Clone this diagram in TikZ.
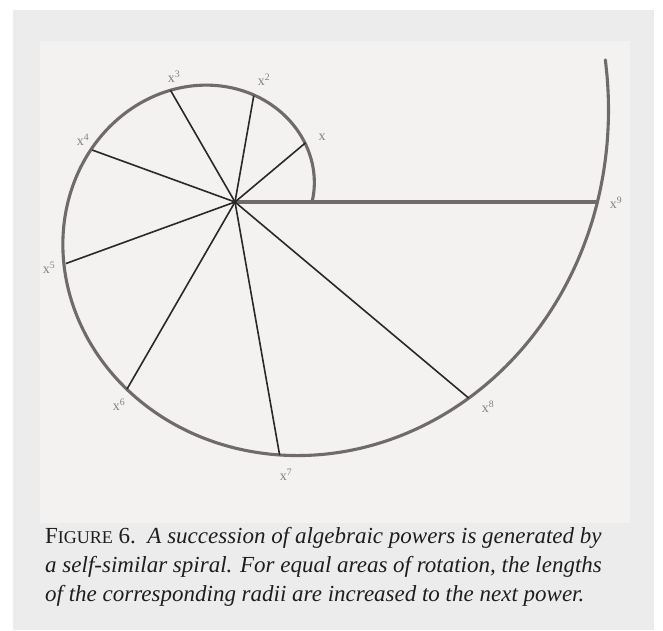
\documentclass[tikz,border=0pt]{standalone}
\usepackage{fontspec}
\setmainfont{Liberation Serif}
\usepackage{tikz}
\usetikzlibrary{positioning,calc}
\usepackage{xcolor}
\definecolor{framegray}{HTML}{ECECEC}
\definecolor{panelgray}{HTML}{F3F2F0}
\definecolor{spiralgray}{HTML}{706A6A}
\definecolor{radiusdark}{HTML}{2A2828}
\definecolor{labelgray}{HTML}{858080}
\definecolor{captiontext}{HTML}{1E1E1E}

\begin{document}
\begin{tikzpicture}[x=1pt, y=1pt,
  spiralline/.style={draw=spiralgray, line width=3.1pt},
  radius/.style={draw=radiusdark, line width=1.6pt},
  powlabel/.style={text=labelgray, inner sep=0pt, font=\fontsize{14}{14}\selectfont},
  captionline/.style={text=captiontext, inner sep=0pt, anchor=base west, font=\fontsize{23}{26}\selectfont\itshape}]
% page, frame and panel
\fill[white] (0,0) rectangle (663,630);
\fill[framegray] (13,0) rectangle (654,620);
\fill[panelgray] (40,107) rectangle (630,589);
% centre and ends of the radii
\coordinate (o) at (235,428);
\path (o) ++(0:77) coordinate (p0);
\path (o) ++(40:92) coordinate (p1);
\path (o) ++(80:108) coordinate (p2);
\path (o) ++(120:129) coordinate (p3);
\path (o) ++(160:152) coordinate (p4);
\path (o) ++(200:180) coordinate (p5);
\path (o) ++(240:216) coordinate (p6);
\path (o) ++(280:257) coordinate (p7);
\path (o) ++(320:305) coordinate (p8);
\path (o) ++(360:363) coordinate (p9);
% spiral
\draw[spiralline, line cap=round, shift={(o)}] plot[domain=0:381, samples=160, smooth] (\x:{77*exp(0.0043047*\x)});
\draw[spiralline] (o) -- (p9);
% radii
\draw[radius] (o) -- (p1);
\draw[radius] (o) -- (p2);
\draw[radius] (o) -- (p3);
\draw[radius] (o) -- (p4);
\draw[radius] (o) -- (p5);
\draw[radius] (o) -- (p6);
\draw[radius] (o) -- (p7);
\draw[radius] (o) -- (p8);
% labels
\node[powlabel] (l1) at ([shift={(87,65)}]o) {x};
\node[powlabel] (l2) at ([shift={(29,122)}]o) {x\textsuperscript{2}};
\node[powlabel] (l3) at ([shift={(-61,125)}]o) {x\textsuperscript{3}};
\node[powlabel] (l4) at ([shift={(-152,62)}]o) {x\textsuperscript{4}};
\node[powlabel] (l5) at ([shift={(-186,-66)}]o) {x\textsuperscript{5}};
\node[powlabel] (l6) at ([shift={(-116,-203)}]o) {x\textsuperscript{6}};
\node[powlabel] (l7) at ([shift={(51,-273)}]o) {x\textsuperscript{7}};
\node[powlabel] (l8) at ([shift={(253,-205)}]o) {x\textsuperscript{8}};
\node[powlabel] (l9) at ([shift={(381,-1)}]o) {x\textsuperscript{9}};
% caption
\node[captionline] (c1) at (45,87) {\upshape F{\fontsize{18}{18}\selectfont IGURE} 6.\ \ \itshape A succession of algebraic powers is generated by};
\node[captionline] (c2) at (45,58) {a self-similar spiral. For equal areas of rotation, the lengths};
\node[captionline] (c3) at (45,29) {of the corresponding radii are increased to the next power.};
\end{tikzpicture}
\end{document}
